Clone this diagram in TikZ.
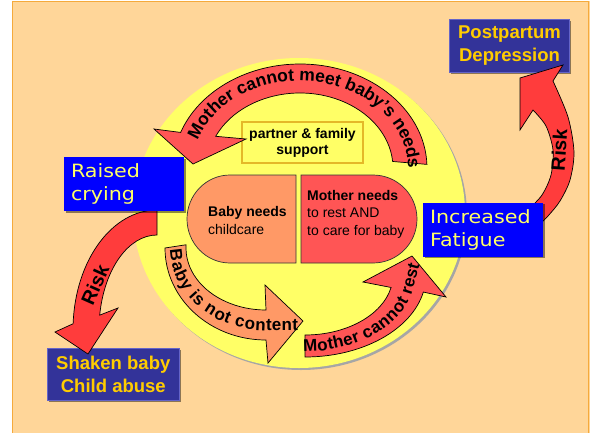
\documentclass[tikz,border=0pt]{standalone}
\usepackage{fontspec}
\setmainfont{Liberation Sans}
\newfontfamily\widefont[FakeStretch=1.13]{DejaVu Sans}
\usetikzlibrary{calc,decorations.text,shadows}
\definecolor{peach}{RGB}{255,214,153}
\definecolor{frameor}{RGB}{245,170,60}
\definecolor{circyel}{RGB}{255,255,102}
\definecolor{salmon}{RGB}{255,153,102}
\definecolor{redfill}{RGB}{255,85,85}
\definecolor{riskred}{RGB}{255,60,60}
\definecolor{navybox}{RGB}{51,51,153}
\definecolor{navyedge}{RGB}{100,100,200}
\definecolor{goldtxt}{RGB}{255,204,0}
\definecolor{paleyel}{RGB}{255,255,102}
\definecolor{goldedge}{RGB}{228,184,40}
\newcommand\arwA{\fontsize{17.5}{17.5}\selectfont\bfseries}
\newcommand\arwB{\fontsize{17}{17}\selectfont\bfseries}
\newcommand\arwC{\fontsize{17}{17}\selectfont\bfseries}
\tikzset{
  blockarrow/.style={draw=black, line width=0.7pt, line join=miter, miter limit=20},
  pill/.style={draw=black!80, line width=0.7pt},
  pilltext/.style={inner sep=0pt, align=left, font=\fontsize{14}{17.4}\selectfont},
  partner/.style={fill=circyel, draw=goldedge, line width=1.5pt, font=\fontsize{14}{16}\selectfont\bfseries, align=center, minimum width=121, minimum height=41, inner sep=0pt},
  navy/.style={fill=navybox, draw=navyedge, line width=1pt, text=goldtxt, font=\fontsize{18.5}{22.5}\selectfont\bfseries, align=center, inner sep=0pt, drop shadow={shadow xshift=1.5pt, shadow yshift=-1.5pt, opacity=0.45, fill=black}},
  bluebox/.style={fill=blue, text=paleyel, font=\widefont\fontsize{18.3}{23}\selectfont, align=left, minimum width=120, minimum height=54, text width=106, inner xsep=7, inner ysep=0pt, drop shadow={shadow xshift=1.5pt, shadow yshift=-1.5pt, opacity=0.45, fill=black}},
  risktext/.style={inner sep=0pt, font=\fontsize{19.5}{19.5}\selectfont\bfseries}
}
\begin{document}
\begin{tikzpicture}[x=1pt,y=-1pt]
\useasboundingbox (0,0) rectangle (590,432);
\fill[white] (0,0) rectangle (590,432);
\fill[peach] (12,1) rectangle (590,433);
\draw[frameor, line width=1pt] (12,433) -- (12,1) -- (588.5,1) -- (588.5,433);

% central circle with shadow
\fill[gray!70] (301,215) ellipse[x radius=166, y radius=155];
\fill[circyel] (299,213) ellipse[x radius=166, y radius=155];

% half pills
\path[pill, fill=salmon] (296,175) -- (230,175) arc[start angle=-90, end angle=-270, x radius=43, y radius=44] -- (296,263) -- cycle;
\path[pill, fill=redfill] (301,175) -- (373,175) arc[start angle=-90, end angle=90, x radius=44, y radius=44] -- (301,263) -- cycle;
\node[pilltext, anchor=north west] (babytxt) at (208,206.5) {\textbf{Baby needs}\\childcare};
\node[pilltext, anchor=north west] (mumtxt) at (307,190) {\textbf{Mother needs}\\to rest AND\\to care for baby};

% partner box
\node[partner] (support) at (302.5,142.5) {partner \& family\\support};

% arrow A: Mother cannot meet baby's needs
\path[blockarrow, fill=redfill] ($(300,168)+(-2:127 and 104)$) arc[start angle=-2, end angle=-160, x radius=127, y radius=104] -- (154,129) -- (193,164) -- (246,139) -- ($(300,168)+(-155:93 and 75)$) arc[start angle=-155, end angle=-5, x radius=93, y radius=75] -- cycle;
\path[decorate, decoration={text along path, text align=fit to path, raise=-4pt, text={|\arwA|Mother cannot meet baby's needs}}] ($(300,168)+(-161:112 and 91)$) arc[start angle=-161, end angle=0, x radius=112, y radius=91];

% arrow B: Baby is not content
\path[blockarrow, fill=salmon] ($(266,248)+(180:101 and 92)$) arc[start angle=180, end angle=90, x radius=101, y radius=92] -- (268,363) -- (303,321) -- (265,285) -- (266,310) arc[start angle=90, end angle=183, x radius=80, y radius=62] -- cycle;
\path[decorate, decoration={text along path, text align=fit to path, raise=-5.5pt, text={|\arwB|Baby is not content}}] ($(266,248)+(179:90.5 and 77)$) arc[start angle=179, end angle=90, x radius=90.5, y radius=77] -- ++(32,0);

% arrow C: Mother cannot rest
\path[blockarrow, fill=redfill] ($(305,275)+(90:121 and 82)$) arc[start angle=90, end angle=12, x radius=121, y radius=82] -- (446,297) -- (412,256) -- (363,282) -- ($(305,275)+(12:88 and 60)$) arc[start angle=12, end angle=90, x radius=88, y radius=60] -- cycle;
\path[decorate, decoration={text along path, text align=fit to path, raise=-5.5pt, text={|\arwC|Mother cannot rest}}] ($(305,275)+(91:104.5 and 71)$) arc[start angle=91, end angle=12, x radius=104.5, y radius=71] -- ++(7,-26);

% outcome boxes
\node[navy, minimum width=120, minimum height=53] (ppd) at (509.5,45.8) {Postpartum\\Depression};
\node[navy, minimum width=132, minimum height=52] (shaken) at (113.3,374.2) {Shaken baby\\Child abuse};

% risk arrow left
\path[blockarrow, fill=riskred] ($(157,330)+(-90:84 and 120)$) arc[start angle=-90, end angle=-177, x radius=84, y radius=120] -- (55,332) -- (88,354) -- (118,308) -- ($(157,330)+(-171:58 and 95)$) arc[start angle=-171, end angle=-90, x radius=58, y radius=95] -- cycle;
\node[risktext, rotate=66] (riskL) at (95,285) {Risk};

% risk arrow right
\path[blockarrow, fill=riskred] plot[smooth] coordinates {(536,228) (548,216) (560,201) (570,180) (574,152) (568,117) (553,81)} -- (563,65) -- (520,78) -- (520,130) -- plot[smooth] coordinates {(533,110) (546,126) (553,150) (551,175) (542,195) (528,210) (520,219)} -- cycle;
\node[risktext, rotate=86] (riskR) at (559,150) {Risk};

% state boxes
\node[bluebox] (crying) at (124,184) {Raised\\crying};
\node[bluebox] (fatigue) at (483,229.5) {Increased\\Fatigue};
\end{tikzpicture}
\end{document}
